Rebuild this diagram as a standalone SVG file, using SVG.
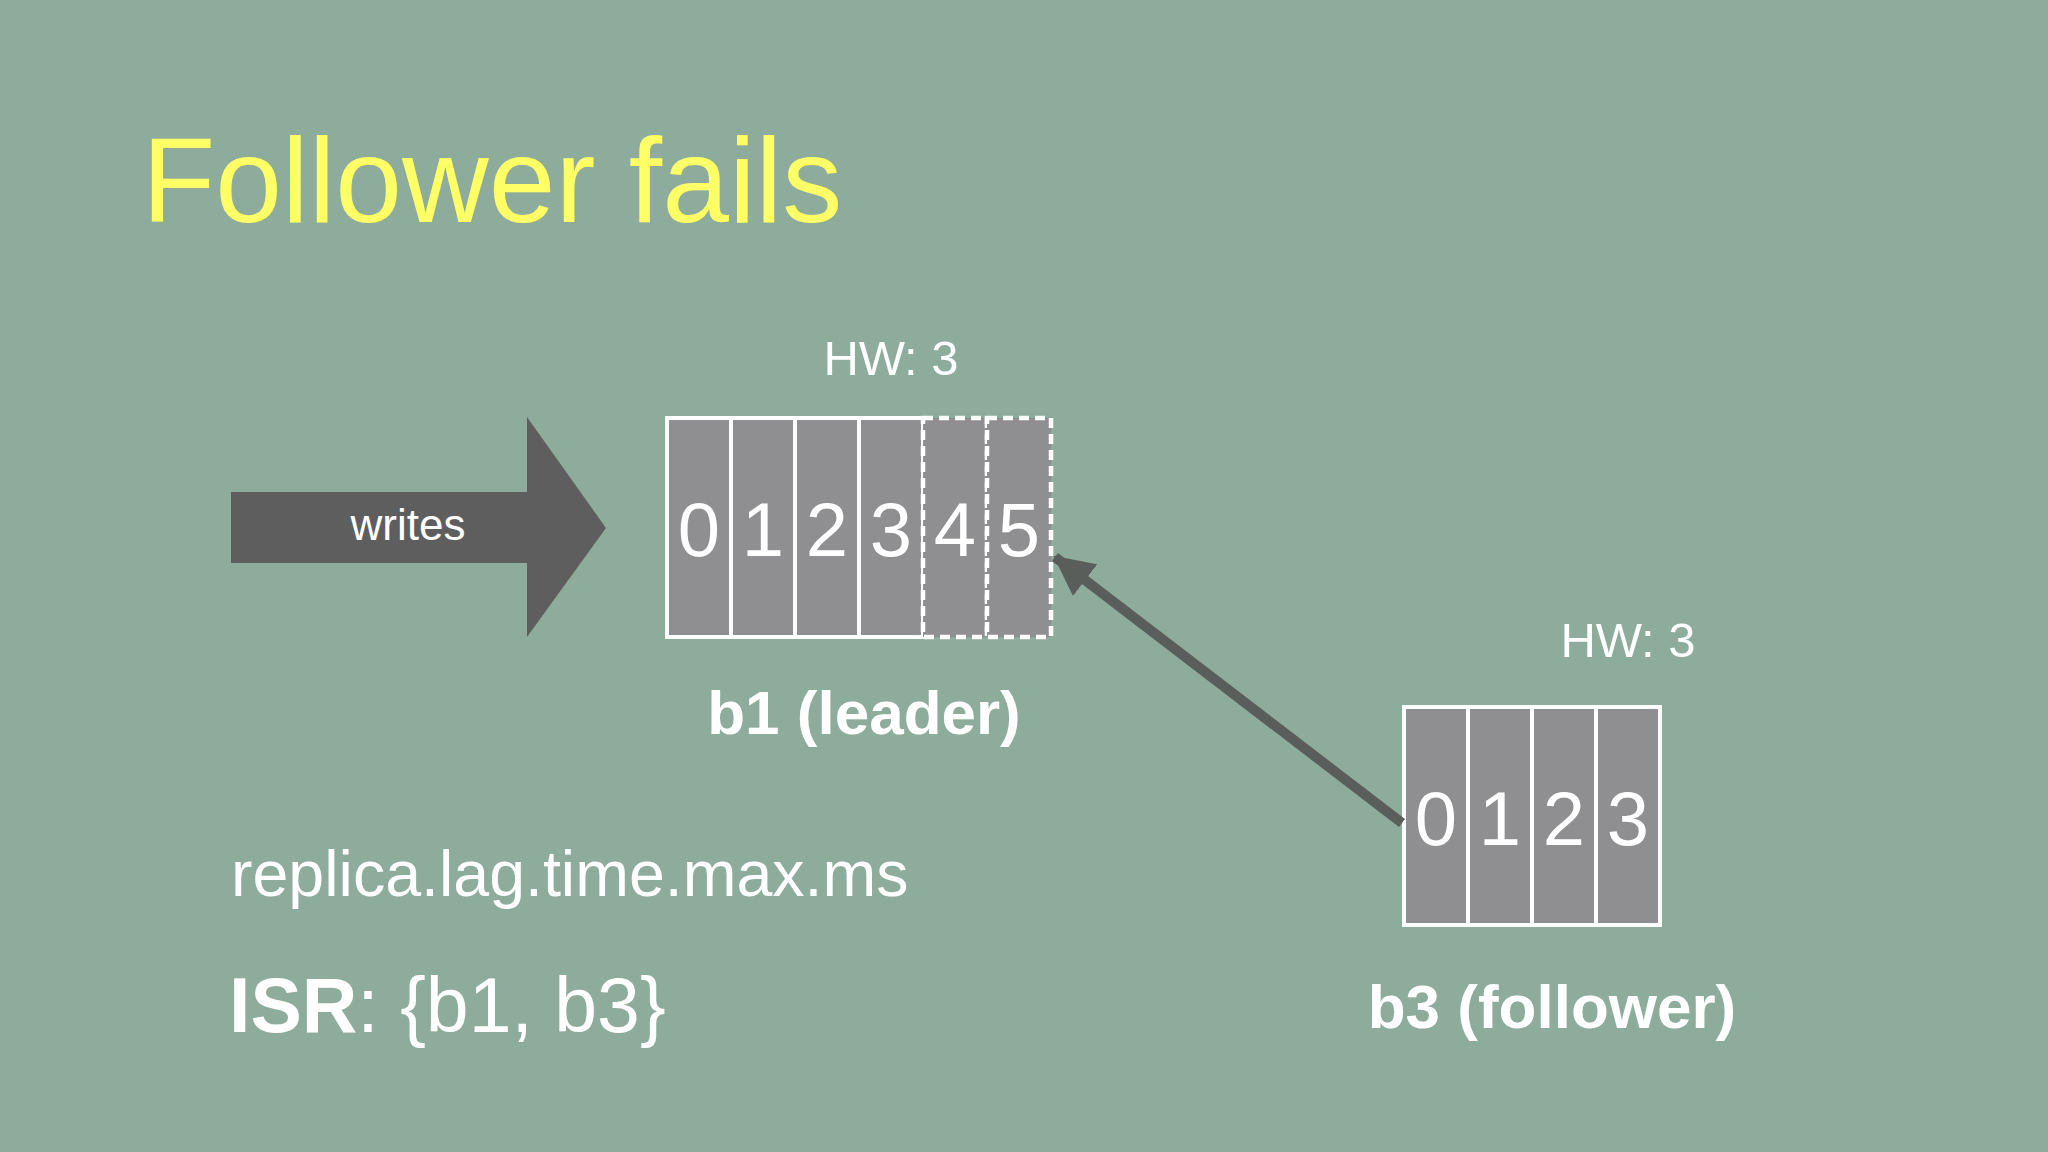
<svg xmlns="http://www.w3.org/2000/svg" width="2048" height="1152" viewBox="0 0 2048 1152">
<style>
.t{font-family:"Liberation Sans",Arial,Helvetica,sans-serif;fill:#fff}
.cell{fill:#8f8e90;stroke:#fff;stroke-width:4}
.dash{fill:#8f8e90;stroke:#fff;stroke-width:4.5;stroke-dasharray:10 6}
.dig{font-family:"Liberation Sans",Arial,Helvetica,sans-serif;fill:#fff;font-size:76px;text-anchor:middle}
.hw{font-size:49px}
.lbl{font-size:62px;font-weight:bold;text-anchor:middle}
</style>
<defs>
<marker id="ah" viewBox="0 0 40 40" refX="38" refY="20" markerWidth="40" markerHeight="40" markerUnits="userSpaceOnUse" orient="auto">
<path d="M0,0 L40,20 L0,40 Z" fill="#5a5e5a"/>
</marker>
</defs>
<rect width="2048" height="1152" fill="#8eac9c"/>
<text class="t" x="142" y="222" font-size="120" style="fill:#ffff66">Follower fails</text>

<g id="writes">
<path d="M231,492 H527 V417 L606,528 L527,637 V563 H231 Z" fill="#5f5e5f"/>
<text class="t" x="408" y="540" font-size="44" text-anchor="middle">writes</text>
</g>

<g id="b1">
<text class="t hw" x="891" y="375" text-anchor="middle">HW: 3</text>
<rect class="cell" x="667" y="418" width="64" height="219"/>
<rect class="cell" x="731" y="418" width="64" height="219"/>
<rect class="cell" x="795" y="418" width="64" height="219"/>
<rect class="cell" x="859" y="418" width="64" height="219"/>
<rect class="dash" x="923" y="418" width="64" height="219"/>
<rect class="dash" x="987" y="418" width="64" height="219"/>
<text class="dig" x="699" y="556">0</text>
<text class="dig" x="763" y="556">1</text>
<text class="dig" x="827" y="556">2</text>
<text class="dig" x="891" y="556">3</text>
<text class="dig" x="955" y="556">4</text>
<text class="dig" x="1019" y="556">5</text>
<text class="t lbl" x="864" y="734">b1 (leader)</text>
</g>

<g id="b3">
<text class="t hw" x="1628" y="657" text-anchor="middle">HW: 3</text>
<rect class="cell" x="1404" y="707" width="64" height="218"/>
<rect class="cell" x="1468" y="707" width="64" height="218"/>
<rect class="cell" x="1532" y="707" width="64" height="218"/>
<rect class="cell" x="1596" y="707" width="64" height="218"/>
<text class="dig" x="1436" y="845">0</text>
<text class="dig" x="1500" y="845">1</text>
<text class="dig" x="1564" y="845">2</text>
<text class="dig" x="1628" y="845">3</text>
<text class="t lbl" x="1552" y="1028">b3 (follower)</text>
</g>

<g id="connectors">
<line x1="1402" y1="823" x2="1055" y2="557" stroke="#5a5e5a" stroke-width="10" marker-end="url(#ah)"/>
</g>

<g id="notes">
<text class="t" x="231" y="896" font-size="64.5">replica.lag.time.max.ms</text>
<text class="t" x="229" y="1032" font-size="77"><tspan font-weight="bold">ISR</tspan>: {b1, b3}</text>
</g>
</svg>
